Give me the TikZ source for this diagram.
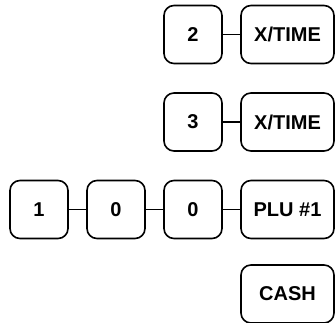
\documentclass[tikz,border=0pt]{standalone}
\usepackage{fontspec}
\setmainfont{Liberation Sans}
\begin{document}
\begin{tikzpicture}[x=1pt,y=-1pt,
  key/.style={draw=black, line width=1.6pt, rounded corners=10pt,
    minimum height=58pt, inner sep=0pt,
    font=\fontsize{20}{24}\selectfont\bfseries},
  smallkey/.style={key, minimum width=58pt},
  bigkey/.style={key, minimum width=93pt},
  link/.style={draw=black, line width=1.4pt}]
\useasboundingbox (0,0) rectangle (335,323);
% row 1
\node[smallkey] (r1a) at (193,34.5) {2};
\node[bigkey]   (r1b) at (287.5,34.5) {X/TIME};
% row 2
\node[smallkey] (r2a) at (193,122) {3};
\node[bigkey]   (r2b) at (287.5,122) {X/TIME};
% row 3
\node[smallkey] (r3a) at (39,209.5) {1};
\node[smallkey] (r3b) at (116,209.5) {0};
\node[smallkey] (r3c) at (193,209.5) {0};
\node[bigkey]   (r3d) at (287.5,209.5) {PLU \#1};
% row 4
\node[bigkey]   (r4a) at (287.5,294) {CASH};
% connectors
\draw[link] (r1a.east) -- (r1b.west);
\draw[link] (r2a.east) -- (r2b.west);
\draw[link] (r3a.east) -- (r3b.west);
\draw[link] (r3b.east) -- (r3c.west);
\draw[link] (r3c.east) -- (r3d.west);
\end{tikzpicture}
\end{document}
